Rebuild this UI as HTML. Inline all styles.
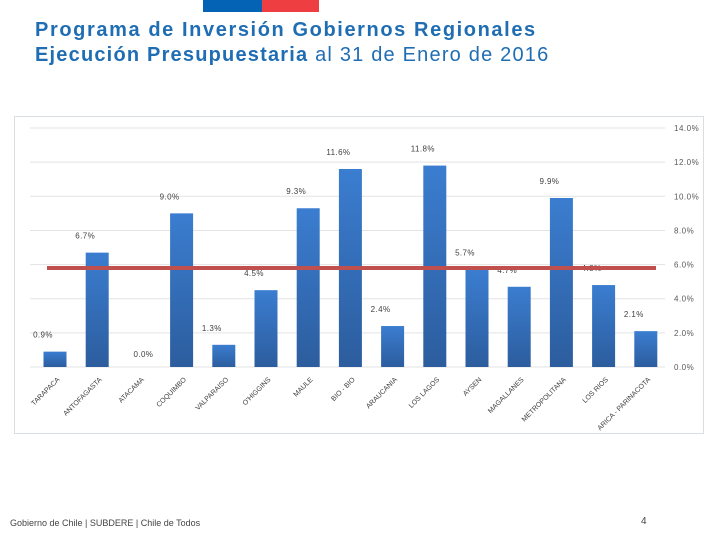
<!DOCTYPE html>
<html><head><meta charset="utf-8"><style>
body{margin:0;width:720px;height:540px;background:#fff;overflow:hidden;font-family:"Liberation Sans",sans-serif;position:relative}
.t{position:absolute;left:35px;color:#1f6db3;font-weight:bold;font-size:20px;white-space:nowrap}
</style></head><body>
<div style="position:absolute;left:203px;top:0;width:59px;height:12px;background:#0563b5"></div>
<div style="position:absolute;left:262px;top:0;width:57px;height:12px;background:#ef3e42"></div>
<div class="t" style="top:19px;letter-spacing:1.6px">Programa de Inversión Gobiernos Regionales</div>
<div class="t" style="top:44px;letter-spacing:1.2px">Ejecución Presupuestaria <span style="font-weight:normal">al 31 de Enero de 2016</span></div>
<div style="position:absolute;left:14px;top:116px;width:690px;height:318px;border:1px solid #d9dee3;box-sizing:border-box"></div>
<svg id="c" width="720" height="540" style="position:absolute;left:0;top:0"></svg>
<div style="position:absolute;left:10px;top:518px;font-size:9px;color:#444">Gobierno de Chile | SUBDERE | Chile de Todos</div>
<div style="position:absolute;left:641px;top:516px;font-size:10px;color:#444">4</div>
<script>
const categories=["TARAPACA","ANTOFAGASTA","ATACAMA","COQUIMBO","VALPARAISO","O'HIGGINS","MAULE","BIO - BIO","ARAUCANIA","LOS LAGOS","AYSEN","MAGALLANES","METROPOLITANA","LOS RIOS","ARICA - PARINACOTA"];
const values=[0.9,6.7,0.0,9.0,1.3,4.5,9.3,11.6,2.4,11.8,5.7,4.7,9.9,4.8,2.1];
const valueLabels=["0.9%","6.7%","0.0%","9.0%","1.3%","4.5%","9.3%","11.6%","2.4%","11.8%","5.7%","4.7%","9.9%","4.8%","2.1%"];
const ticks=[0,2,4,6,8,10,12,14];
const tickLabels=["0.0%","2.0%","4.0%","6.0%","8.0%","10.0%","12.0%","14.0%"];
const average=[5.8];
const svg=document.getElementById('c');const NS="http://www.w3.org/2000/svg";
const y=v=>367-v*17.07;const x=i=>55+i*42.2;
function mk(t,a){const e=document.createElementNS(NS,t);for(const k in a)e.setAttribute(k,a[k]);svg.appendChild(e);return e;}
const defs=mk('defs',{});
defs.innerHTML='<linearGradient id="g" x1="0" y1="0" x2="0" y2="1"><stop offset="0" stop-color="#3b7dd0"/><stop offset="1" stop-color="#2c5d9e"/></linearGradient>';
ticks.forEach((t,i)=>{
 const l=mk('line',{x1:30,x2:665,y1:y(t),y2:y(t),stroke:'#e3e3e3','stroke-width':1});
 
 
 const tx=mk('text',{x:674,y:y(t)+3,'font-size':8,fill:'#595959','letter-spacing':0.5});tx.textContent=tickLabels[i];
 
 
});
values.forEach((v,i)=>{
 const r=mk('rect',{x:x(i)-11.5,y:y(v),width:23,height:367-y(v),fill:'url(#g)'});
 
 
 const lx=v===0?x(i)+4:x(i)-12, ly=v===0?y(v)-10:y(v)-14;
 const t=mk('text',{x:lx,y:ly,'font-size':8,fill:'#404040','text-anchor':'middle','letter-spacing':0.4});t.textContent=valueLabels[i];
 
 
 const c=mk('text',{x:x(i)+5,y:380,'font-size':7,fill:'#404040','text-anchor':'end',transform:`rotate(-45 ${x(i)+5} 380)`});c.textContent=categories[i];
 
 
});
const al=mk('line',{x1:47,x2:656,y1:y(average[0]),y2:y(average[0]),stroke:'#c0504d','stroke-width':4});


</script>
</body></html>
